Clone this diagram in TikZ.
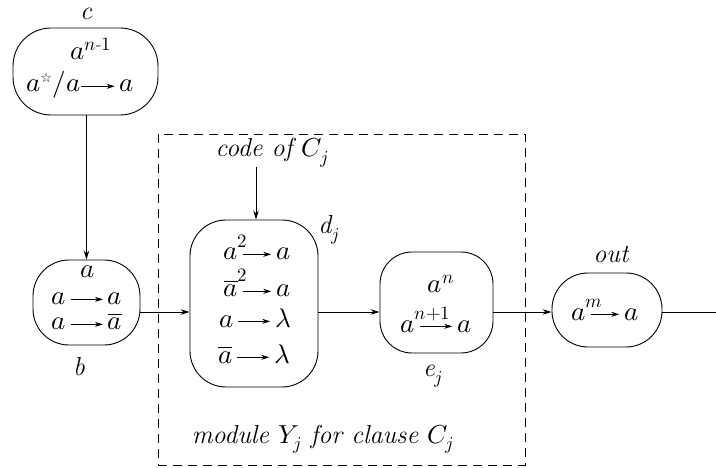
\documentclass[tikz,border=0pt]{standalone}
\usepackage{mathtools}
\usepackage{unicode-math}
\newfontfamily\djv{DejaVu Sans}
\usetikzlibrary{arrows.meta}
\newcommand\myar[1][32pt]{\tikz[baseline=-0.21em]\draw[line width=0.8pt,-{Stealth[length=8pt,width=5pt]}] (0,0)--(#1,0);}
\newcommand\wstar{\mbox{\djv\fontsize{13}{13}\selectfont ☆}}
\newcommand\hisup[1]{^{\mathrlap{\raisebox{3pt}{$\scriptstyle #1$}}}}
\tikzset{
  box/.style={draw, line width=0.9pt, inner sep=0pt},
  txt/.style={anchor=base, inner sep=0pt},
  lbl/.style={anchor=base, inner sep=0pt, font=\fontsize{26}{30}\selectfont\itshape},
  arr/.style={line width=0.8pt, -{Stealth[length=9pt,width=5.5pt]}},
  plain/.style={line width=0.8pt}
}
\begin{document}
\begin{tikzpicture}[x=1pt,y=-1pt, font=\fontsize{27}{31}\selectfont]
\useasboundingbox (0,0) rectangle (716,468);

% module frame
\node[draw, line width=0.8pt, dash pattern=on 9pt off 6pt, minimum width=367pt, minimum height=331pt, inner sep=0pt] (mod) at (341.5,299.5) {};

% boxes
\node[box, minimum width=145pt, minimum height=87pt, rounded corners=38pt] (c) at (85.5,71.5) {};
\node[box, minimum width=107pt, minimum height=85pt, rounded corners=36pt] (b) at (86.5,302.5) {};
\node[box, minimum width=128pt, minimum height=167pt, rounded corners=36pt] (d) at (254,303.5) {};
\node[box, minimum width=113pt, minimum height=101pt, rounded corners=32pt] (e) at (436.5,302.5) {};
\node[box, minimum width=110pt, minimum height=74pt, rounded corners=36pt] (out) at (607,310) {};

% labels
\node[lbl] (cl) at (86,20) {c};
\node[lbl] (bl) at (79,375) {b};
\node[lbl] (dl) at (329,234) {d$_j$};
\node[lbl] (el) at (433,377) {e$_j$};
\node[lbl] (ol) at (611,262) {out};
\node[lbl] (code) at (272,157) {code of $C_j$};
\node[lbl] (modl) at (323,443) {module $Y_j$ for clause $C_j$};

% contents
\node[txt] (c1) at (91,60) {$a^{n\text{-}1}$};
\node[txt] (c2) at (80,92) {$a^{\wstar}/a$\myar[34pt]\,$a$};
\node[txt] (b1) at (88,278) {$a$};
\node[txt] (b2) at (87,305) {$a$\,\myar\,$a$};
\node[txt] (b3) at (87,330) {$a$\,\myar\,$\overline{a}$};
\node[txt] (d1) at (257,260) {$a\hisup{2}$\,\myar[28pt]\,$a$};
\node[txt] (d2) at (257,297) {$\overline{a}\hisup{2}$\,\myar[28pt]\,$a$};
\node[txt] (d3) at (255,327) {$a$\,\myar\,$\lambda$};
\node[txt] (d4) at (254,363) {$\overline{a}$\,\myar\,$\lambda$};
\node[txt] (e1) at (441,293) {$a^{n}$};
\node[txt] (e2) at (436,332) {$a\hisup{n+1}$\,\myar\,$a$};
\node[txt] (o1) at (605,320) {$a\hisup{m}$\,\myar[28pt]\,$a$};

% connectors
\coordinate (row) at (0,312);
\coordinate (ctop) at (256,167);
\coordinate (rend) at (716,312);
\draw[arr] (c.south -| b.north) -- (b.north);
\draw[arr] (ctop) -- (ctop |- d.north);
\draw[arr] (b.east |- row) -- (d.west |- row);
\draw[arr] (d.east |- row) -- (e.west |- row);
\draw[arr] (e.east |- row) -- (out.west |- row);
\draw[plain] (out.east |- row) -- (rend);
\end{tikzpicture}
\end{document}
